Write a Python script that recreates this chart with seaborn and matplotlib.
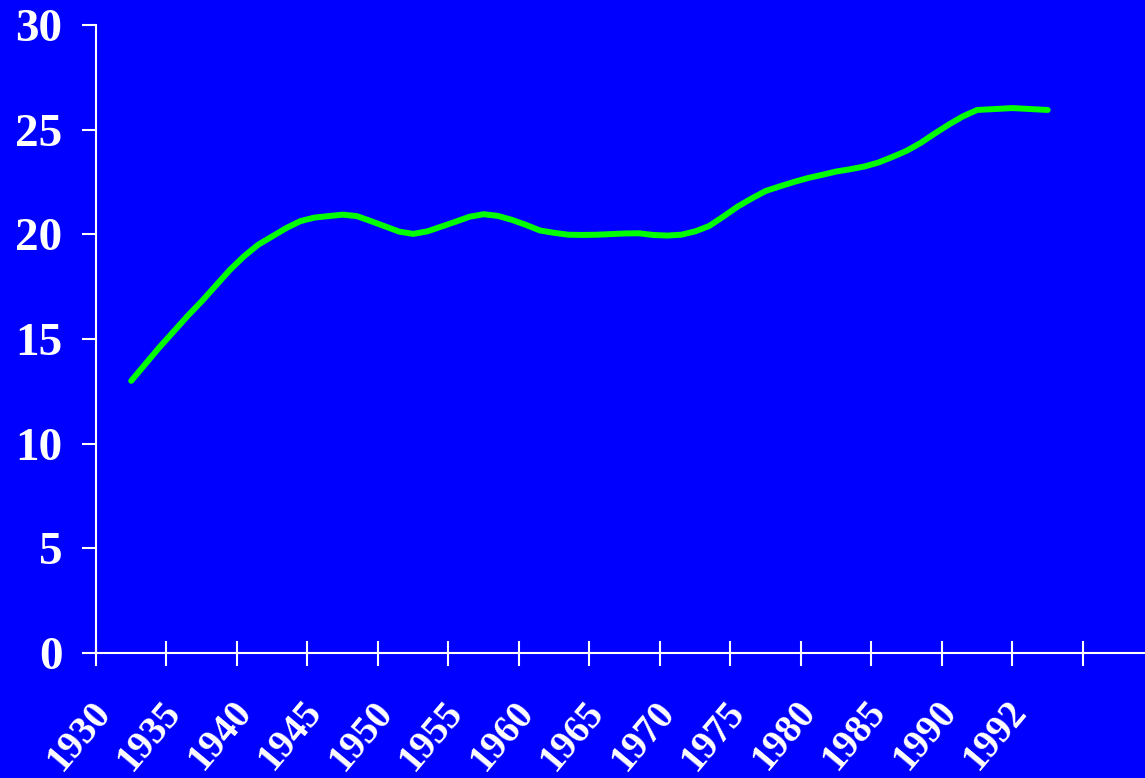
import numpy as np
import pandas as pd
import matplotlib
matplotlib.use("Agg")
import matplotlib.pyplot as plt
import matplotlib.transforms as mtransforms
import seaborn as sns

# tick labels of the category axis
label_years = [1930, 1935, 1940, 1945, 1950, 1955, 1960, 1965,
               1970, 1975, 1980, 1985, 1990, 1992]
y_ticks = [0, 5, 10, 15, 20, 25, 30]

# yearly series
years = list(range(1930, 1993))
values = [13.0, 13.8, 14.6, 15.35, 16.1, 16.8, 17.55, 18.3, 18.95, 19.5,
          19.9, 20.3, 20.63, 20.8, 20.87, 20.94, 20.87, 20.63, 20.38, 20.13,
          20.02, 20.14, 20.37, 20.6, 20.84, 20.96, 20.88, 20.69, 20.45, 20.18,
          20.07, 19.98, 19.97, 19.98, 20.01, 20.04, 20.05, 19.97, 19.94, 19.98,
          20.14, 20.4, 20.85, 21.32, 21.71, 22.07, 22.29, 22.5, 22.69, 22.84,
          23.0, 23.11, 23.24, 23.43, 23.7, 23.99, 24.37, 24.82, 25.25, 25.64,
          25.94, 26.03, 25.94]

BLUE = "#0000FF"
GREEN = "#00FF00"

sns.set_style("white")
plt.rcParams["font.family"] = ["Liberation Serif", "DejaVu Serif"]
plt.rcParams["font.weight"] = "bold"

# category positions (one slot per label, line drawn at slot centres)
centers = np.arange(len(label_years))
df = pd.DataFrame({"year": years, "value": values})
df["pos"] = np.interp(df["year"], label_years, centers)

fig = plt.figure(figsize=(11.45, 7.78), dpi=100, facecolor=BLUE)
ax = fig.add_axes([0.0838, 0.1607, 0.9162, 0.8072])
ax.set_facecolor(BLUE)

sns.lineplot(data=df, x="pos", y="value", color=GREEN, linewidth=4.3,
             solid_capstyle="round", solid_joinstyle="round", ax=ax)

ax.set_xlim(-0.5, 14.38)
ax.set_ylim(0, 30)

# spines
for s in ["top", "right"]:
    ax.spines[s].set_visible(False)
for s in ["left", "bottom"]:
    ax.spines[s].set_color("white")
    ax.spines[s].set_linewidth(1.5)

# y axis
ax.set_yticks(y_ticks)
ax.set_yticklabels([str(v) for v in y_ticks])
ax.tick_params(axis="y", left=True, direction="out", length=10, width=1.5,
               color="white", labelcolor="white", labelsize=34, pad=14)

# x axis: ticks at slot edges, labels at slot centres
ax.set_xticks(np.arange(-0.5, len(label_years) + 0.5, 1.0))
ax.set_xticklabels([])
ax.set_xticks(centers, minor=True)
ax.set_xticklabels([str(y) for y in label_years], minor=True,
                   rotation=50, ha="right", va="center", rotation_mode="anchor")
ax.tick_params(axis="x", which="major", bottom=True, direction="inout",
               length=18, width=1.5, color="white")
ax.tick_params(axis="x", which="minor", bottom=True, length=0,
               labelcolor="white", labelsize=28, pad=38)

offset = mtransforms.ScaledTranslation(-0.27, 0, fig.dpi_scale_trans)
for lab in ax.get_xticklabels(minor=True):
    lab.set_transform(lab.get_transform() + offset)

ax.set_xlabel("")
ax.set_ylabel("")

fig.savefig("out.png", dpi=100, facecolor=BLUE)
